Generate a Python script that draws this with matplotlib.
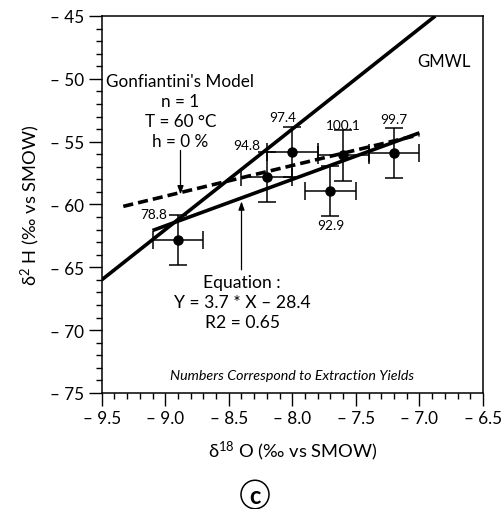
import matplotlib
matplotlib.use("Agg")
import matplotlib.pyplot as plt
from matplotlib.ticker import MultipleLocator, FuncFormatter
from matplotlib.patches import Circle

plt.rcParams["font.family"] = ["Lato", "DejaVu Sans"]
plt.rcParams["mathtext.fontset"] = "custom"
plt.rcParams["mathtext.rm"] = "Lato"
plt.rcParams["mathtext.it"] = "Lato:italic"
plt.rcParams["mathtext.bf"] = "Lato:bold"

# Measured isotopic compositions of the extracted water
d18o = [-8.9, -8.2, -8.0, -7.7, -7.6, -7.2]
d2h = [-62.8, -57.8, -55.8, -58.9, -56.1, -55.9]
d18o_err = [0.2, 0.2, 0.2, 0.2, 0.2, 0.2]
d2h_err = [2.0, 2.0, 2.0, 2.0, 2.0, 2.0]
yields = ["78.8", "94.8", "97.4", "92.9", "100.1", "99.7"]

# Global meteoric water line: dD = 8 d18O + 10
gmwl_x = [-9.5, -6.875]
gmwl_slope, gmwl_icpt = 8.0, 10.0

# Linear fit of the samples
fit_x = [-9.1, -7.0]
fit_slope, fit_icpt = 3.7, -28.4

# Gonfiantini evaporation model (n = 1, T = 60 C, h = 0 %)
gonf_x = [-9.33, -7.0]
gonf_y = [-60.15, -54.45]

model_lines = ["Gonfiantini's Model", "n = 1", "T = 60 °C", "h = 0 %"]
fit_lines = ["Equation :", "Y = 3.7 * X \u2013 28.4", "R2 = 0.65"]

fig = plt.figure(figsize=(5.01, 5.10), dpi=100)
ax = fig.add_axes([0.203, 0.2275, 0.761, 0.7392])

ax.set_xlim(-9.5, -6.5)
ax.set_ylim(-75, -45)

lw = 2.6
ax.plot(gmwl_x, [gmwl_slope * x + gmwl_icpt for x in gmwl_x],
        color="black", lw=lw, solid_capstyle="butt")
ax.plot(fit_x, [fit_slope * x + fit_icpt for x in fit_x],
        color="black", lw=lw, solid_capstyle="butt")
ax.plot(gonf_x, gonf_y, color="black", lw=lw, linestyle=(0, (2.8, 1.4)),
        dash_capstyle="butt")

ax.errorbar(d18o, d2h, xerr=d18o_err, yerr=d2h_err, fmt="o", color="black",
            markersize=6.5, elinewidth=1.1, capsize=6.5, capthick=1.1, zorder=4)

# yield labels beside each sample
label_offsets = [(-8, 18.5, "right"), (-4.8, 22.8, "right"), (-7, 24.8, "center"),
                 (0, -24.7, "center"), (0, 22.1, "center"), (0, 24.7, "center")]
for x, y, txt, (dx, dy, ha) in zip(d18o, d2h, yields, label_offsets):
    ax.annotate(txt, (x, y), xytext=(dx, dy), textcoords="offset points",
                ha=ha, va="center", fontsize=9.8)

ax.text(-6.81, -48.56, "GMWL", ha="center", va="center", fontsize=12)

# annotation blocks, one text per line (14.4 pt line pitch)
for i, line in enumerate(model_lines):
    ax.annotate(line, (-8.88, -50.2), xytext=(0, -14.4 * i),
                textcoords="offset points", ha="center", va="center",
                fontsize=12.3)
for i, line in enumerate(fit_lines):
    ax.annotate(line, (-8.395, -66.2), xytext=(0, -14.4 * i),
                textcoords="offset points", ha="center", va="center",
                fontsize=12.6)

ax.text(-8.0, -73.6, "Numbers Correspond to Extraction Yields",
        ha="center", va="center", fontsize=10.3, style="italic")

arrow = dict(arrowstyle="-|>,head_length=0.5,head_width=0.18", color="black",
             lw=0.9, shrinkA=0, shrinkB=0)
ax.annotate("", xy=(-8.88, -59.2), xytext=(-8.88, -55.7), arrowprops=arrow)
ax.annotate("", xy=(-8.4, -59.75), xytext=(-8.4, -65.2), arrowprops=arrow)

# axes styling
for s in ax.spines.values():
    s.set_linewidth(1.1)
ax.xaxis.set_major_locator(MultipleLocator(0.5))
ax.xaxis.set_minor_locator(MultipleLocator(0.1))
ax.yaxis.set_major_locator(MultipleLocator(5))
ax.yaxis.set_minor_locator(MultipleLocator(1))
ax.xaxis.set_major_formatter(FuncFormatter(lambda v, p: f"\u2013 {abs(v):.1f}"))
ax.yaxis.set_major_formatter(FuncFormatter(lambda v, p: f"\u2013 {abs(v):.0f}"))
ax.tick_params(which="major", direction="out", length=9.5, width=1.0,
               labelsize=12.3, pad=3)
ax.tick_params(which="minor", direction="out", length=4.5, width=1.0)
ax.tick_params(top=False, right=False, which="both")

ax.set_xlabel("δ$^{18}$ O (‰ vs SMOW)", fontsize=13.2, labelpad=9)
ax.set_ylabel("δ$^{2}$ H (‰ vs SMOW)", fontsize=13.2, labelpad=6)

# panel tag
fig.patches.append(Circle((255 / 501, 1 - 495.5 / 510), 14 / 501,
                          transform=fig.transFigure, fill=False, lw=1.1,
                          edgecolor="black"))
fig.text(255 / 501, 1 - 496.5 / 510, "c", ha="center", va="center",
         fontsize=17, fontweight="bold")

fig.savefig("out.png", dpi=100)
